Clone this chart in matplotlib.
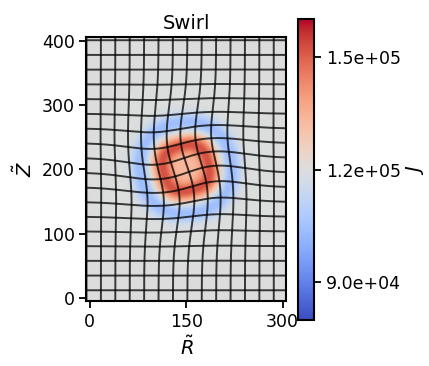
import numpy as np
import matplotlib
matplotlib.use("Agg")
import matplotlib.pyplot as plt

# axis extents and ticks (data units)
x_lim = (-5, 306)
y_lim = (-5, 406)
x_ticks = [0, 150, 300]
y_ticks = [0, 100, 200, 300, 400]
cbar_ticks = [9.0e4, 1.2e5, 1.5e5]
cbar_labels = ["9.0e+04", "1.2e+05", "1.5e+05"]
j_min, j_max = 8.0e4, 1.6e5
j_base = 1.2e5

# reference grid lines
vline_x0, vline_dx, n_vlines = -5.0, 22.4, 14
hline_y0, hline_dy, n_hlines = 401.0, -22.9, 18

# swirl centre and strength
center = (150.0, 203.0)
theta0 = 0.34      # rad, rotation at the centre
sigma = 75.0       # decay radius

# J field shape (in reference coordinates)
red_amp, red_r, red_w = 3.0e4, 36.0, 15.0
core_frac, core_w = 0.45, 26.0
blue_amp, blue_r, blue_w = 1.6e4, 71.0, 14.0


def swirl(X, Y):
    dx, dy = X - center[0], Y - center[1]
    r = np.hypot(dx, dy)
    th = theta0 * np.exp(-(r / sigma) ** 2)
    c, s = np.cos(th), np.sin(th)
    return center[0] + c * dx - s * dy, center[1] + s * dx + c * dy


# field on a fine reference mesh
X, Y = np.meshgrid(np.linspace(x_lim[0], x_lim[1], 311),
                   np.linspace(y_lim[0], y_lim[1], 411))
dX, dY = np.abs(X - center[0]), np.abs(Y - center[1])
s_red = (dX ** 2.6 + dY ** 2.6) ** (1 / 2.6)
s_blue = (dX ** 2.2 + dY ** 2.2) ** (1 / 2.2)
J = (j_base
     + red_amp * (np.exp(-((s_red - red_r) / red_w) ** 2)
                  + core_frac * np.exp(-(s_red / core_w) ** 2))
     - blue_amp * np.exp(-((s_blue - blue_r) / blue_w) ** 2))
xd, yd = swirl(X, Y)

fig = plt.figure(figsize=(4.29, 3.66), dpi=100)
ax = fig.add_axes([0.2016, 0.1776, 0.4662, 0.7213])
cax = fig.add_axes([0.6946, 0.1257, 0.0373, 0.8216])

mesh = ax.pcolormesh(xd, yd, J, cmap="coolwarm", vmin=j_min, vmax=j_max,
                     shading="gouraud", rasterized=True)

# deformed grid lines
t = np.linspace(y_lim[0], y_lim[1], 400)
for k in range(n_vlines):
    gx, gy = swirl(np.full_like(t, vline_x0 + k * vline_dx), t)
    ax.plot(gx, gy, color="black", lw=1.4, alpha=0.75)
t = np.linspace(x_lim[0], x_lim[1], 400)
for k in range(n_hlines):
    gx, gy = swirl(t, np.full_like(t, hline_y0 + k * hline_dy))
    ax.plot(gx, gy, color="black", lw=1.4, alpha=0.75)

ax.set_xlim(*x_lim)
ax.set_ylim(*y_lim)
ax.set_xticks(x_ticks)
ax.set_yticks(y_ticks)
ax.tick_params(labelsize=12.5, width=1.3, length=5)
for sp in ax.spines.values():
    sp.set_linewidth(1.5)
ax.set_xlabel(r"$\tilde{R}$", fontsize=14)
ax.set_ylabel(r"$\tilde{Z}$", fontsize=14)
ax.set_title("Swirl", fontsize=14)

cb = fig.colorbar(mesh, cax=cax)
cb.set_ticks(cbar_ticks)
cb.set_ticklabels(cbar_labels)
cb.ax.tick_params(labelsize=12.5, width=1.3, length=5)
cb.outline.set_linewidth(1.5)
cb.set_label(r"$J$", fontsize=14, labelpad=2)

fig.savefig("out.png", dpi=100)
